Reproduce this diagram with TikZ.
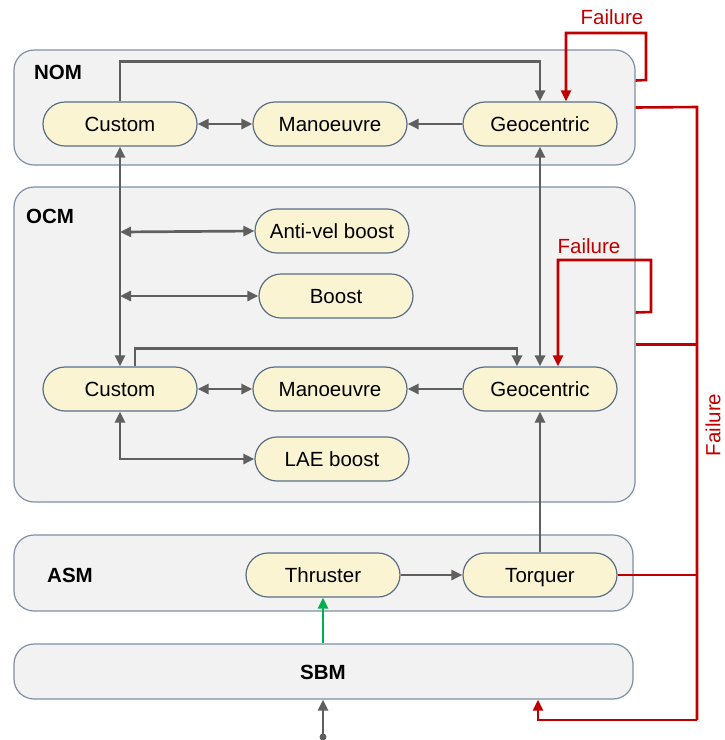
\documentclass[tikz,border=0pt]{standalone}
\usepackage{fontspec}
\setmainfont{Liberation Sans}
\usetikzlibrary{arrows.meta,calc}
\definecolor{boxfill}{HTML}{F2F2F2}
\definecolor{boxline}{HTML}{7F8FA6}
\definecolor{pillfill}{HTML}{FAF4D3}
\definecolor{pillline}{HTML}{5A6E86}
\definecolor{conn}{HTML}{5F5F5F}
\definecolor{failred}{HTML}{C00000}
\definecolor{okgreen}{HTML}{00B050}
\tikzset{
  container/.style={draw=boxline, fill=boxfill, line width=1.2pt, rounded corners=20pt, inner sep=0pt},
  pill/.style={draw=pillline, fill=pillfill, line width=1.2pt, rounded corners=22pt, minimum width=154pt, minimum height=44pt, inner sep=0pt, text height=18pt, text depth=4pt, font=\fontsize{20.5}{24}\selectfont},
  grouplabel/.style={font=\bfseries\fontsize{20.5}{24}\selectfont, inner sep=0pt},
  faillabel/.style={text=failred, font=\fontsize{20.5}{24}\selectfont, inner sep=0pt},
  gline/.style={draw=conn, line width=2.7pt},
  garrow/.style={gline, -{Triangle[length=11pt,width=10pt]}},
  gboth/.style={gline, {Triangle[length=11pt,width=10pt]}-{Triangle[length=11pt,width=10pt]}},
  rline/.style={draw=failred, line width=2.6pt},
  rarrow/.style={rline, -{Triangle[length=11pt,width=10pt]}},
}
\begin{document}
\begin{tikzpicture}[x=1pt,y=-1pt]
\useasboundingbox (0,0) rectangle (724,740);
% containers
\node[container, minimum width=621pt, minimum height=115pt] (nom) at (324.5,107.5) {};
\node[container, minimum width=621pt, minimum height=315pt] (ocm) at (324.5,344.5) {};
\node[container, minimum width=619pt, minimum height=76pt] (asm) at (323.5,573) {};
\node[container, minimum width=619pt, minimum height=55pt] (sbm) at (323.5,671.5) {};
\node[grouplabel] (nomlbl) at (58,72) {NOM};
\node[grouplabel] (ocmlbl) at (50,216) {OCM};
\node[grouplabel] (asmlbl) at (70,575) {ASM};
\node[grouplabel] (sbmlbl) at (323,672) {SBM};
% NOM nodes
\node[pill] (ncus) at (120,124) {Custom};
\node[pill] (nman) at (330,124) {Manoeuvre};
\node[pill] (ngeo) at (540,124) {Geocentric};
% OCM nodes
\node[pill] (anti) at (332,231) {Anti-vel boost};
\node[pill] (boost) at (336,296) {Boost};
\node[pill] (ocus) at (120,389) {Custom};
\node[pill] (oman) at (330,389) {Manoeuvre};
\node[pill] (ogeo) at (540,389) {Geocentric};
\node[pill] (lae) at (332,459) {LAE boost};
% ASM nodes
\node[pill] (thr) at (323,575) {Thruster};
\node[pill] (tor) at (540,575) {Torquer};
% NOM connectors
\draw[garrow] (ncus.north) -- ++(0,-40) -| (ngeo.north);
\draw[gboth] (ncus.east) -- (nman.west);
\draw[garrow] (ngeo.west) -- (nman.east);
% vertical links
\draw[gboth] (ncus.south) -- (ocus.north);
\draw[gboth] (ngeo.south) -- (ogeo.north);
\coordinate (ja) at (120,232);
\coordinate (jb) at (120,296);
\draw[gboth] (ja) -- (anti.west);
\draw[gboth] (jb) -- (boost.west);
% OCM connectors
\draw[garrow] ($(ocus.north)+(15,0)$) -- ++(0,-18) -| ($(ogeo.north)+(-23,0)$);
\draw[gboth] (ocus.east) -- (oman.west);
\draw[garrow] (ogeo.west) -- (oman.east);
\draw[gboth] (ocus.south) |- (lae.west);
% ASM connectors
\draw[garrow] (tor.north) -- (ogeo.south);
\draw[garrow] (thr.east) -- (tor.west);
\draw[okgreen, line width=2.7pt, -{Triangle[length=11pt,width=10pt]}] (sbm.north -| thr.south) -- (thr.south);
% input to SBM
\coordinate (inp) at (323,737);
\fill[conn] (inp) circle (3.5pt);
\draw[garrow] (inp) -- (sbm.south -| inp);
% failure loops
\node[faillabel] (f1) at (612,17) {Failure};
\draw[rarrow] ($(nom.east)+(0,-27)$) -- (646,80) -- (646,33) -- (566,33) -- ($(ngeo.north)+(26,0)$);
\node[faillabel] (f2) at (589,246) {Failure};
\draw[rarrow] ($(ocm.east)+(0,-32)$) -- (651,312) -- (651,260) -- (558,260) -- ($(ogeo.north)+(18,0)$);
% main failure bus
\coordinate (bustop) at (697,107);
\coordinate (busbot) at (697,720);
\draw[rline] (nom.east) -- (bustop) -- (busbot);
\draw[rline] (ocm.east) -- (ocm.east -| bustop);
\draw[rline] (tor.east) -- (tor.east -| bustop);
\draw[rarrow] (busbot) -| ($(sbm.south)+(214.5,0)$);
\node[faillabel, rotate=90] (f3) at (713,425) {Failure};
\end{tikzpicture}
\end{document}
